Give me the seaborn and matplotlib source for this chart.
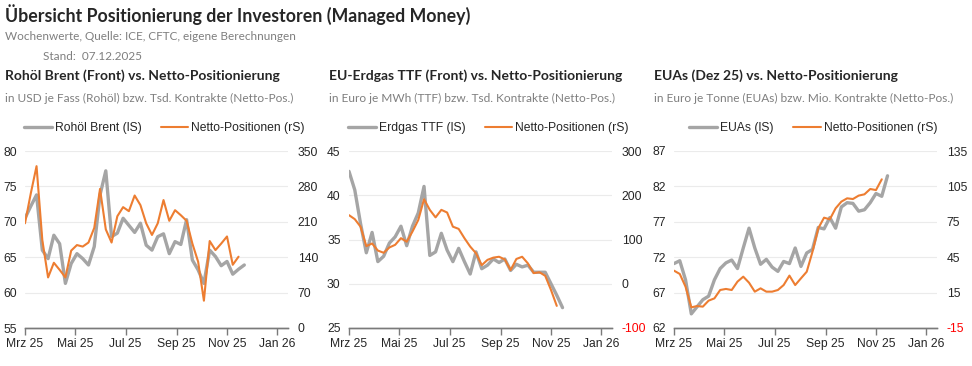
import pandas as pd
import matplotlib.pyplot as plt
import seaborn as sns

# Wochenwerte
brent = [70.5, 72.2, 73.8, 66.0, 64.8, 68.1, 66.9, 61.3, 64.1, 65.5, 64.8, 63.9, 66.5,
         73.8, 77.2, 67.9, 68.4, 70.5, 69.5, 68.5, 69.8, 66.7, 66.0, 67.9, 68.3, 65.5,
         67.2, 66.8, 70.3, 64.6, 63.2, 61.3, 66.0, 65.1, 63.8, 64.4, 62.6, 63.3, 63.9]
brent_net = [207, 266, 320, 174, 100, 129, 115, 100, 153, 164, 161, 169, 198, 275, 195,
             169, 221, 239, 231, 262, 243, 207, 184, 207, 253, 212, 233, 223, 212, 167,
             131, 54, 172, 154, 167, 181, 125, 141]

ttf = [42.7, 40.6, 36.8, 33.5, 35.8, 32.5, 33.1, 34.6, 35.3, 36.5, 34.3, 36.5, 38.0,
       41.0, 33.2, 33.6, 35.7, 33.8, 32.5, 34.0, 32.5, 31.1, 33.6, 31.7, 32.1, 32.8,
       32.4, 32.8, 31.5, 32.2, 31.9, 32.1, 31.3, 31.3, 31.3, 30.0, 28.7, 27.3]
ttf_net = [155, 146, 129, 85, 91, 75, 70, 82, 88, 103, 95, 118, 144, 191, 167, 150, 167,
           161, 129, 124, 103, 84, 69, 42, 54, 59, 61, 55, 31, 56, 61, 46, 24, 26, 18,
           -14, -50]

eua = [71.1, 71.5, 68.8, 64.0, 65.0, 66.0, 66.5, 68.8, 70.4, 71.2, 71.6, 70.4, 73.3,
       76.1, 73.3, 71.0, 71.7, 70.6, 70.0, 71.4, 71.1, 73.3, 70.7, 72.6, 73.1, 76.2,
       76.0, 77.6, 76.1, 79.1, 79.7, 79.6, 78.5, 78.7, 79.7, 81.0, 80.6, 83.5]
eua_net = [33.6, 30.8, 20.0, 2.5, 3.6, 3.1, 8.2, 10.1, 17.2, 18.1, 17.2, 24.3, 28.5, 23.4,
           15.8, 18.6, 15.8, 15.8, 17.2, 21.4, 29.4, 21.4, 27.1, 32.7, 49.7, 69.5, 78.5,
           77.1, 86.4, 92.1, 94.9, 94.3, 97.2, 98.3, 102.8, 101.9, 111.0]

month_ticks = ["2025-03-01", "2025-05-01", "2025-07-01", "2025-09-01", "2025-11-01", "2026-01-01"]
month_labels = ["Mrz 25", "Mai 25", "Jul 25", "Sep 25", "Nov 25", "Jan 26"]

panels = [
    dict(title="Rohöl Brent (Front) vs. Netto-Positionierung",
         sub="in USD je Fass (Rohöl) bzw. Tsd. Kontrakte (Netto-Pos.)",
         name="Rohöl Brent (lS)", price=brent, net=brent_net,
         left=range(55, 81, 5), right=range(0, 351, 70), x0=25),
    dict(title="EU-Erdgas TTF (Front) vs. Netto-Positionierung",
         sub="in Euro je MWh (TTF) bzw. Tsd. Kontrakte (Netto-Pos.)",
         name="Erdgas TTF (lS)", price=ttf, net=ttf_net,
         left=range(25, 46, 5), right=range(-100, 301, 100), x0=349),
    dict(title="EUAs (Dez 25) vs. Netto-Positionierung",
         sub="in Euro je Tonne (EUAs) bzw. Mio. Kontrakte (Netto-Pos.)",
         name="EUAs (lS)", price=eua, net=eua_net,
         left=range(62, 88, 5), right=range(-15, 136, 30), x0=674),
]

GREY = "#A5A5A5"
ORANGE = "#ED7D31"
W, H = 972, 366

sns.set_style("white")
plt.rcParams["font.family"] = ["Liberation Sans", "DejaVu Sans"]
plt.rcParams["axes.unicode_minus"] = False

fig = plt.figure(figsize=(W / 100, H / 100), dpi=100)

fig.text(5 / W, 1 - 15 / H, "Übersicht Positionierung der Investoren (Managed Money)",
         fontsize=12.8, fontweight="bold", family="Lato", va="center", color="#262626")
fig.text(5 / W, 1 - 37 / H, "Wochenwerte, Quelle: ICE, CFTC, eigene Berechnungen",
         fontsize=8.5, family="Lato", va="center", color="#7f7f7f")
fig.text(43 / W, 1 - 57 / H, "Stand:  07.12.2025",
         fontsize=8.5, family="Lato", va="center", color="#7f7f7f")

start = pd.Timestamp("2025-03-01")
xticks = pd.to_datetime(month_ticks)

for p in panels:
    x0 = p["x0"]
    fig.text((x0 - 20) / W, 1 - 76 / H, p["title"], fontsize=10, fontweight="bold",
             family="Lato", va="center", color="#262626")
    fig.text((x0 - 20) / W, 1 - 98 / H, p["sub"], fontsize=8.6, family="Lato",
             va="center", color="#7f7f7f")

    ax = fig.add_axes([x0 / W, 1 - 328 / H, 263 / W, 177 / H])
    ax2 = ax.twinx()

    d1 = pd.DataFrame({"date": pd.date_range(start, periods=len(p["price"]), freq="7D"),
                       "v": p["price"]})
    d2 = pd.DataFrame({"date": pd.date_range(start, periods=len(p["net"]), freq="7D"),
                       "v": p["net"]})
    sns.lineplot(data=d1, x="date", y="v", ax=ax, color=GREY, linewidth=2.4,
                 label=p["name"], legend=False)
    sns.lineplot(data=d2, x="date", y="v", ax=ax2, color=ORANGE, linewidth=1.5,
                 label="Netto-Positionen (rS)", legend=False)

    lt = list(p["left"])
    rt = list(p["right"])
    ax.set_ylim(lt[0], lt[-1])
    ax2.set_ylim(rt[0], rt[-1])
    ax.set_yticks(lt)
    ax2.set_yticks(rt)
    ax.set_xlim(start, pd.Timestamp("2026-01-14"))
    ax.set_xticks(xticks)
    ax.set_xticklabels(month_labels)
    ax.set_xlabel("")
    ax.set_ylabel("")
    ax2.set_ylabel("")

    ax.grid(axis="y", color="#ebebeb", linewidth=0.8)
    ax.set_axisbelow(True)
    for a in (ax, ax2):
        for s in ("top", "left", "right"):
            a.spines[s].set_visible(False)
        a.spines["bottom"].set_color("#7a7a7a")
        a.spines["bottom"].set_linewidth(1)
    ax.tick_params(axis="x", bottom=True, length=5, width=1, color="#7a7a7a",
                   labelsize=8.7, pad=2, labelcolor="#262626")
    ax.tick_params(axis="y", length=0, labelsize=8.7, pad=6, labelcolor="#262626")
    ax2.tick_params(axis="y", length=0, labelsize=8.7, pad=7, labelcolor="#262626")
    for lab, v in zip(ax2.get_yticklabels(), rt):
        if v < 0:
            lab.set_color("red")

    h1, l1 = ax.get_legend_handles_labels()
    h2, l2 = ax2.get_legend_handles_labels()
    ax.legend(h1 + h2, l1 + l2, loc="center", bbox_to_anchor=(0.53, 1.13), ncol=2,
              frameon=False, fontsize=8.7, handlelength=2.3, columnspacing=1.6,
              handletextpad=0.25)

fig.savefig("out.png", dpi=100, facecolor="white")
